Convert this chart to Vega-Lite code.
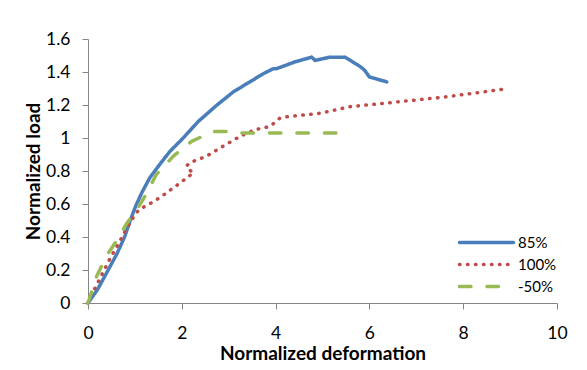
{
  "$schema": "https://vega.github.io/schema/vega-lite/v6.json",
  "autosize": {"type": "none"},
  "width": 469,
  "height": 264,
  "padding": {"left": 88, "top": 39, "right": 30, "bottom": 67},
  "background": "white",
  "config": {
    "view": {"stroke": null},
    "font": "Lato",
    "axis": {
      "grid": false,
      "domainColor": "#868686",
      "tickColor": "#868686",
      "tickSize": 6,
      "labelFont": "Lato",
      "labelFontSize": 17.5,
      "labelColor": "#000000",
      "titleFont": "Lato",
      "titleFontSize": 19,
      "titleFontWeight": "bold",
      "titleColor": "#000000"
    }
  },
  "data": {
    "values": [
      {"s": "85%", "i": 1, "x": 0, "y": 0},
      {"s": "85%", "i": 2, "x": 0.2, "y": 0.08},
      {"s": "85%", "i": 3, "x": 0.43, "y": 0.2},
      {"s": "85%", "i": 4, "x": 0.62, "y": 0.3},
      {"s": "85%", "i": 5, "x": 0.78, "y": 0.4},
      {"s": "85%", "i": 6, "x": 0.9, "y": 0.5},
      {"s": "85%", "i": 7, "x": 1.02, "y": 0.59},
      {"s": "85%", "i": 8, "x": 1.15, "y": 0.67},
      {"s": "85%", "i": 9, "x": 1.32, "y": 0.76},
      {"s": "85%", "i": 10, "x": 1.53, "y": 0.84},
      {"s": "85%", "i": 11, "x": 1.75, "y": 0.92},
      {"s": "85%", "i": 12, "x": 2.03, "y": 1.0},
      {"s": "85%", "i": 13, "x": 2.35, "y": 1.1},
      {"s": "85%", "i": 14, "x": 2.75, "y": 1.2},
      {"s": "85%", "i": 15, "x": 3.1, "y": 1.28},
      {"s": "85%", "i": 16, "x": 3.45, "y": 1.34},
      {"s": "85%", "i": 17, "x": 3.74, "y": 1.39},
      {"s": "85%", "i": 18, "x": 3.95, "y": 1.42},
      {"s": "85%", "i": 19, "x": 4.02, "y": 1.42},
      {"s": "85%", "i": 20, "x": 4.4, "y": 1.46},
      {"s": "85%", "i": 21, "x": 4.77, "y": 1.49},
      {"s": "85%", "i": 22, "x": 4.84, "y": 1.47},
      {"s": "85%", "i": 23, "x": 5.16, "y": 1.49},
      {"s": "85%", "i": 24, "x": 5.48, "y": 1.49},
      {"s": "85%", "i": 25, "x": 5.65, "y": 1.46},
      {"s": "85%", "i": 26, "x": 5.82, "y": 1.43},
      {"s": "85%", "i": 27, "x": 5.9, "y": 1.41},
      {"s": "85%", "i": 28, "x": 6.0, "y": 1.37},
      {"s": "85%", "i": 29, "x": 6.37, "y": 1.34},
      {"s": "100%", "i": 1, "x": 0, "y": 0},
      {"s": "100%", "i": 2, "x": 0.04, "y": 0.04},
      {"s": "100%", "i": 3, "x": 0.15, "y": 0.09},
      {"s": "100%", "i": 4, "x": 0.31, "y": 0.18},
      {"s": "100%", "i": 5, "x": 0.47, "y": 0.27},
      {"s": "100%", "i": 6, "x": 0.65, "y": 0.36},
      {"s": "100%", "i": 7, "x": 0.82, "y": 0.45},
      {"s": "100%", "i": 8, "x": 0.99, "y": 0.53},
      {"s": "100%", "i": 9, "x": 1.1, "y": 0.57},
      {"s": "100%", "i": 10, "x": 1.25, "y": 0.59},
      {"s": "100%", "i": 11, "x": 1.54, "y": 0.64},
      {"s": "100%", "i": 12, "x": 2.0, "y": 0.735},
      {"s": "100%", "i": 13, "x": 2.25, "y": 0.79},
      {"s": "100%", "i": 14, "x": 2.14, "y": 0.81},
      {"s": "100%", "i": 15, "x": 2.1, "y": 0.83},
      {"s": "100%", "i": 16, "x": 2.17, "y": 0.85},
      {"s": "100%", "i": 17, "x": 2.53, "y": 0.89},
      {"s": "100%", "i": 18, "x": 2.88, "y": 0.95},
      {"s": "100%", "i": 19, "x": 3.24, "y": 1.01},
      {"s": "100%", "i": 20, "x": 3.56, "y": 1.05},
      {"s": "100%", "i": 21, "x": 3.88, "y": 1.07},
      {"s": "100%", "i": 22, "x": 4.09, "y": 1.12},
      {"s": "100%", "i": 23, "x": 4.27, "y": 1.13},
      {"s": "100%", "i": 24, "x": 4.95, "y": 1.15},
      {"s": "100%", "i": 25, "x": 5.59, "y": 1.19},
      {"s": "100%", "i": 26, "x": 6.3, "y": 1.21},
      {"s": "100%", "i": 27, "x": 7.65, "y": 1.25},
      {"s": "100%", "i": 28, "x": 8.84, "y": 1.295},
      {"s": "-50%", "i": 1, "x": 0, "y": 0},
      {"s": "-50%", "i": 2, "x": 0.08, "y": 0.07},
      {"s": "-50%", "i": 3, "x": 0.15, "y": 0.14},
      {"s": "-50%", "i": 4, "x": 0.25, "y": 0.2},
      {"s": "-50%", "i": 5, "x": 0.4, "y": 0.29},
      {"s": "-50%", "i": 6, "x": 0.5, "y": 0.33},
      {"s": "-50%", "i": 7, "x": 0.66, "y": 0.4},
      {"s": "-50%", "i": 8, "x": 0.82, "y": 0.48},
      {"s": "-50%", "i": 9, "x": 1.0, "y": 0.55},
      {"s": "-50%", "i": 10, "x": 1.18, "y": 0.63},
      {"s": "-50%", "i": 11, "x": 1.46, "y": 0.78},
      {"s": "-50%", "i": 12, "x": 1.82, "y": 0.89},
      {"s": "-50%", "i": 13, "x": 2.21, "y": 0.98},
      {"s": "-50%", "i": 14, "x": 2.67, "y": 1.04},
      {"s": "-50%", "i": 15, "x": 3.03, "y": 1.04},
      {"s": "-50%", "i": 16, "x": 3.24, "y": 1.03},
      {"s": "-50%", "i": 17, "x": 5.58, "y": 1.03}
    ]
  },
  "mark": {"type": "line", "strokeWidth": 3.5, "strokeCap": "round", "strokeJoin": "round"},
  "encoding": {
    "x": {
      "field": "x", "type": "quantitative",
      "scale": {"domain": [0, 10], "nice": false},
      "axis": {"title": "Normalized deformation", "values": [0, 2, 4, 6, 8, 10], "labelPadding": 15, "titlePadding": 3, "labelFlush": false}
    },
    "y": {
      "field": "y", "type": "quantitative",
      "scale": {"domain": [0, 1.6], "nice": false},
      "axis": {"title": "Normalized load", "values": [0, 0.2, 0.4, 0.6, 0.8, 1, 1.2, 1.4, 1.6], "format": "~g", "labelPadding": 12, "titlePadding": 2, "labelFlush": false}
    },
    "order": {"field": "i", "type": "quantitative"},
    "color": {
      "field": "s", "type": "nominal",
      "scale": {"domain": ["85%", "100%", "-50%"], "range": ["#4a7ebb", "#be4b48", "#98b954"]},
      "legend": {
        "title": null,
        "orient": "none",
        "legendX": 391,
        "legendY": 196,
        "padding": 0,
        "symbolType": "M-5,0H5",
        "symbolSize": 117,
        "symbolStrokeWidth": 3.5,
        "labelOffset": 24,
        "labelFont": "Lato",
        "labelFontSize": 15,
        "labelColor": "#000000",
        "rowPadding": 6,
        "encode": {"symbols": {"update": {"strokeCap": {"value": "round"}}}}
      }
    },
    "strokeDash": {
      "field": "s", "type": "nominal",
      "scale": {"domain": ["85%", "100%", "-50%"], "range": [[1, 0], [0.5, 7.5], [11.5, 16]]},
      "legend": null
    }
  }
}
